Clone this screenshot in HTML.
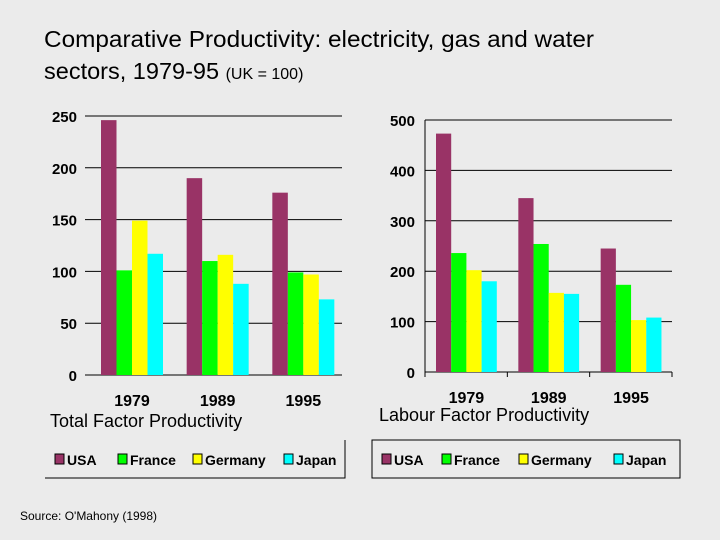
<!DOCTYPE html>
<html><head><meta charset="utf-8"><style>
body{margin:0;background:#ebebeb;}
svg{display:block;font-family:"Liberation Sans",Arial,sans-serif;}
</style></head><body>
<svg id="c" width="720" height="540" viewBox="0 0 720 540">
<rect width="720" height="540" fill="#ebebeb"/>
<text x="44" y="47" font-size="23.5" fill="#000" textLength="550" lengthAdjust="spacingAndGlyphs">Comparative Productivity:  electricity, gas and water</text>
<text x="44" y="79" font-size="23.5" fill="#000">sectors, 1979-95 <tspan font-size="16">(UK = 100)</tspan></text>
<text x="20" y="520" font-size="12" fill="#000">Source:  O'Mahony (1998)</text>
</svg>
<script>
const categories=["1979","1989","1995"];
const seriesNames=["USA","France","Germany","Japan"];
const colors=["#993366","#00ff00","#ffff00","#00ffff"];
const tfpUSA=[246,190,176];
const tfpFrance=[101,110,99];
const tfpGermany=[149,116,97];
const tfpJapan=[117,88,73];
const tfpTicks=[0,50,100,150,200,250];
const lfpUSA=[473,345,245];
const lfpFrance=[236,254,173];
const lfpGermany=[202,157,103];
const lfpJapan=[180,155,108];
const lfpTicks=[0,100,200,300,400,500];

const svg=document.getElementById('c');
const NS='http://www.w3.org/2000/svg';
function mk(tag,attrs,parent){const e=document.createElementNS(NS,tag);for(const k in attrs)e.setAttribute(k,attrs[k]);(parent||svg).appendChild(e);return e;}

function chart(o){
  const g=mk('g',{});
  
  
  const max=o.ticks[o.ticks.length-1];
  const y=v=>o.y0-(v/max)*(o.y0-o.yTop);
  const gw=(o.x1-o.x0)/categories.length;
  o.ticks.forEach(t=>{
    const l=mk('line',{x1:o.x0,x2:o.x1,y1:y(t),y2:y(t),stroke:'#000','stroke-width':1},g);
    
    
    const tx=mk('text',{x:o.x0-(o.axisLine?10:8),y:y(t)+6,'font-size':15,'font-weight':'bold','text-anchor':'end'},g);
    tx.textContent=t;
    
    
  });
  if(o.axisLine){
    const a=mk('line',{x1:o.x0,x2:o.x0,y1:o.yTop,y2:o.y0,stroke:'#000'},g);
    
    
    for(let i=0;i<=categories.length;i++){
      const tk=mk('line',{x1:o.x0+i*gw,x2:o.x0+i*gw,y1:o.y0,y2:o.y0+5,stroke:'#000'},g);
      
      
    }
  }
  const bw=o.bw;
  categories.forEach((c,i)=>{
    const gx=o.x0+i*gw+o.barOff;
    o.series.forEach((s,j)=>{
      const v=s[i];
      const r=mk('rect',{x:gx+j*bw,y:y(v),width:bw,height:o.y0-y(v),fill:colors[j]},g);
      
      
    });
    const t=mk('text',{x:gx+2*bw,y:o.catY,'font-size':16,'font-weight':'bold','text-anchor':'middle'},g);
    t.textContent=c;
    
    
  });
  const st=mk('text',{x:o.subX,y:o.subY,'font-size':18},g);
  st.textContent=o.subtitle;
  
  
  const lg=mk('g',{},g);
  
  
  if(o.fullBox){mk('rect',{x:o.lx,y:440,width:o.lw,height:38,fill:'none',stroke:'#000'},lg);}
  else{mk('polyline',{points:`${o.lx+o.lw},440 ${o.lx+o.lw},478 ${o.lx},478`,fill:'none',stroke:'#000'},lg);}
  seriesNames.forEach((n,j)=>{
    const e=mk('g',{},lg);
    
    
    const bx=o.legX[j];
    mk('rect',{x:bx,y:454,width:9,height:10,fill:colors[j],stroke:'#000','stroke-width':1},e);
    const t=mk('text',{x:bx+12,y:465,'font-size':14,'font-weight':'bold'},e);
    t.textContent=n;
  });
}
chart({name:'tfp-chart',x0:85,x1:342,y0:375,yTop:116,ticks:tfpTicks,series:[tfpUSA,tfpFrance,tfpGermany,tfpJapan],bw:15.5,barOff:16,catY:406,subtitle:'Total Factor Productivity',subX:50,subY:427,lx:45,lw:300,fullBox:false,axisLine:false,legX:[55,118,193,284]});
chart({name:'lfp-chart',x0:425,x1:672,y0:372,yTop:120,ticks:lfpTicks,series:[lfpUSA,lfpFrance,lfpGermany,lfpJapan],bw:15.2,barOff:11,catY:403,subtitle:'Labour Factor Productivity',subX:379,subY:421,lx:372,lw:308,fullBox:true,axisLine:true,legX:[382,442,519,614]});
</script>
</body></html>
